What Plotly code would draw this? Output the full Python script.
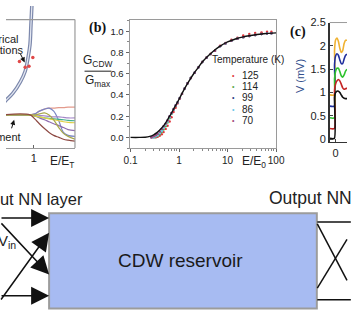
import plotly.graph_objects as go

W, H = 356, 330
def px(x): return x / W
def py(y): return 1 - y / H

FONT = "Liberation Sans, Arial, sans-serif"
SERIF = "Liberation Serif, Times New Roman, serif"

# ---------------- Panel (a) data ----------------
a_theory_x = [0.30, 0.40, 0.545, 0.71, 0.814, 0.876, 0.917, 0.938, 0.958, 0.97]
a_theory_y = [0.30, 0.336, 0.384, 0.466, 0.541, 0.637, 0.726, 0.863, 1.0, 1.1]
a_sim_x = [0.69, 0.814, 0.896, 0.979]
a_sim_y = [0.61, 0.568, 0.575, 0.637]
a_exp_x = [0.30, 0.92, 1.02, 1.12, 1.23, 1.33, 1.43, 1.54, 1.64, 1.74, 1.89]
a_exp_lines = {
    "#e39a8c": [0.233, 0.233, 0.240, 0.260, 0.274, 0.281, 0.281, 0.284, 0.284, 0.288, 0.288],
    "#7a86c4": [0.233, 0.233, 0.240, 0.260, 0.274, 0.281, 0.260, 0.192, 0.110, 0.089, 0.082],
    "#a487c9": [0.233, 0.233, 0.233, 0.230, 0.226, 0.223, 0.219, 0.219, 0.216, 0.212, 0.212],
    "#8f6db0": [0.233, 0.233, 0.226, 0.212, 0.199, 0.185, 0.171, 0.158, 0.144, 0.130, 0.123],
    "#3fae8c": [0.233, 0.233, 0.226, 0.219, 0.212, 0.209, 0.205, 0.202, 0.199, 0.195, 0.192],
    "#e0cf48": [0.233, 0.233, 0.226, 0.219, 0.212, 0.205, 0.199, 0.192, 0.185, 0.181, 0.178],
    "#a8a84a": [0.233, 0.233, 0.233, 0.240, 0.247, 0.233, 0.199, 0.144, 0.103, 0.082, 0.062],
    "#8e4a44": [0.233, 0.233, 0.205, 0.171, 0.137, 0.110, 0.089, 0.075, 0.062, 0.055, 0.048],
}

# ---------------- Panel (b) data ----------------
b_fit_E = [0.1, 0.15, 0.2, 0.25, 0.3, 0.35, 0.4, 0.5, 0.6, 0.7, 0.8, 1.0, 1.3, 1.6, 2, 2.5,
           3, 4, 5, 7, 10, 15, 20, 30, 50, 70, 100]
b_fit_G = [0.0, 0.0, 0.002, 0.01, 0.025, 0.045, 0.07, 0.12, 0.18, 0.23, 0.28, 0.36, 0.46,
           0.53, 0.6, 0.66, 0.71, 0.77, 0.81, 0.86, 0.9, 0.93, 0.945, 0.96, 0.975, 0.98, 0.985]
b_temps = ["125", "114", "99", "86", "70"]
b_colors = ["#e0353a", "#5aa84e", "#2b3a86", "#6cc6e8", "#a2467a"]
b_E = [0.27, 0.30, 0.33, 0.36, 0.40, 0.44, 0.48, 0.53, 0.58, 0.64, 0.70, 0.77, 0.85, 0.93,
       1.03, 1.15, 1.3, 1.5, 1.75, 2.1, 2.5, 3.0, 3.7, 4.5, 5.5, 7, 9, 12, 16, 21, 28, 37,
       50, 65, 80]
b_G = {
    "125": [None, None, 0.0, 0.005, 0.015, 0.03, 0.05, 0.08, 0.11, 0.15, 0.19, 0.24, 0.28,
            0.32, 0.365, 0.41, 0.46, 0.51, 0.56, 0.61, 0.66, 0.71, 0.755, 0.79, 0.82, 0.865,
            0.89, 0.92, 0.94, 0.96, 0.975, 0.985, 0.99, 0.995, 0.995],
    "114": [None, 0.0, 0.005, 0.015, 0.03, 0.05, 0.075, 0.105, 0.14, 0.18, 0.22, 0.26, 0.295,
            0.33, 0.37, 0.41, 0.46, 0.51, 0.56, 0.61, 0.66, 0.71, 0.75, 0.785, 0.815, 0.86,
            0.885, 0.91, 0.93, 0.945, 0.955, 0.965, 0.975, 0.98, 0.982],
    "99": [0.0, 0.005, 0.015, 0.03, 0.05, 0.075, 0.10, 0.13, 0.16, 0.2, 0.23, 0.265, 0.3,
           0.33, 0.37, 0.41, 0.46, 0.51, 0.56, 0.61, 0.66, 0.71, 0.75, 0.785, 0.815, 0.86,
           0.885, 0.91, 0.93, 0.945, 0.955, 0.965, 0.975, 0.98, 0.982],
    "86": [None, 0.0, 0.01, 0.02, 0.04, 0.06, 0.09, 0.12, 0.15, 0.19, 0.225, 0.26, 0.3,
           0.33, 0.37, 0.41, 0.46, 0.51, 0.56, 0.61, 0.66, 0.71, 0.75, 0.785, 0.815, 0.86,
           0.885, 0.91, 0.93, 0.945, 0.955, 0.965, 0.975, 0.98, 0.982],
    "70": [0.0, 0.01, 0.02, 0.035, 0.055, 0.08, 0.105, 0.13, 0.16, 0.2, 0.23, 0.265, 0.3,
           0.33, 0.37, 0.41, 0.46, 0.51, 0.56, 0.61, 0.66, 0.71, 0.75, 0.785, 0.815, 0.86,
           0.885, 0.91, 0.93, 0.945, 0.955, 0.965, 0.975, 0.98, 0.982],
}

# ---------------- Panel (c) data ----------------
c_t = [-0.6, -0.12, -0.1, 0.0, 0.15, 0.3, 0.45, 0.6, 0.75, 0.9, 1.05, 1.2]
c_V = {
    "#f0b232": [0.95, 0.95, 1.9, 2.12, 2.17, 2.1, 1.95, 1.86, 1.9, 2.05, 2.12, 2.12],
    "#1f2e9e": [0.71, 0.71, 1.6, 1.78, 1.83, 1.8, 1.7, 1.62, 1.62, 1.72, 1.8, 1.82],
    "#2ec42e": [0.46, 0.46, 1.3, 1.45, 1.52, 1.52, 1.45, 1.36, 1.33, 1.38, 1.46, 1.5],
    "#c42424": [0.23, 0.23, 1.05, 1.18, 1.25, 1.28, 1.25, 1.18, 1.1, 1.07, 1.08, 1.1],
    "#111111": [0.02, 0.02, 0.9, 1.0, 1.03, 1.03, 1.0, 0.95, 0.9, 0.88, 0.87, 0.87],
}
c_yticks = [0, 0.5, 1, 1.5, 2, 2.5]
c_yticktext = ["0", "0.5", "1", "1.5", "2", "2.5"]

fig = go.Figure()

# (a)
for col, ys in a_exp_lines.items():
    fig.add_trace(go.Scatter(x=a_exp_x, y=ys, mode="lines", line=dict(color=col, width=1.2, shape="spline"),
                             xaxis="x", yaxis="y"))
fig.add_trace(go.Scatter(x=a_theory_x, y=a_theory_y, mode="lines",
                         line=dict(color="#7c88ac", width=3.6, shape="spline"), xaxis="x", yaxis="y"))
fig.add_trace(go.Scatter(x=a_theory_x, y=a_theory_y, mode="lines",
                         line=dict(color="#e4e8f2", width=1.2, shape="spline"), xaxis="x", yaxis="y"))
fig.add_trace(go.Scatter(x=a_sim_x, y=a_sim_y, mode="markers",
                         marker=dict(color="#e04848", size=3.5), xaxis="x", yaxis="y"))

# (b)
for t, col in zip(b_temps, b_colors):
    fig.add_trace(go.Scatter(x=b_E, y=b_G[t], mode="markers", marker=dict(color=col, size=2.4),
                             xaxis="x2", yaxis="y2"))
fig.add_trace(go.Scatter(x=b_fit_E, y=b_fit_G, mode="lines", line=dict(color="#111111", width=1.4, shape="spline"),
                         xaxis="x2", yaxis="y2"))

# (c)
for col, vs in c_V.items():
    fig.add_trace(go.Scatter(x=c_t, y=vs, mode="lines", line=dict(color=col, width=1.6, shape="spline", smoothing=0.6),
                             xaxis="x3", yaxis="y3"))

ann = []
def text(x, y, s, size=11, color="#222", xanchor="center", family=FONT, **kw):
    ann.append(dict(x=px(x), y=py(y), xref="paper", yref="paper", text=s, showarrow=False,
                    xanchor=xanchor, yanchor="middle", font=dict(size=size, color=color, family=family), **kw))

def arrow(hx, hy, ax, ay, size=2.4, width=1.5, head=2):
    ann.append(dict(x=px(hx), y=py(hy), xref="paper", yref="paper", text="", showarrow=True,
                    ax=ax, ay=ay, arrowhead=head, arrowsize=size, arrowwidth=width, arrowcolor="#111",
                    standoff=0, startstandoff=0))

# (a) texts
text(16, 34, "Numerical", 11, xanchor="right")
text(21, 45, "simulations", 11, xanchor="right")
text(18, 135, "Experiment", 11, xanchor="right")
text(58, 160, "E/E<sub>T</sub>", 12)
arrow(19.5, 58, -5, -10, size=1, width=1)
arrow(8.5, 117, -3, 10, size=1, width=1)

# (b) texts
text(96, 23, "<b>(b)</b>", 14, color="#111", family=SERIF)
text(96, 57, "G<sub>CDW</sub>", 12)
text(96, 77, "G<sub>max</sub>", 12)
text(259, 160, "E/E<sub>0</sub>", 12)
text(213, 55, "Temperature (K)", 10, xanchor="left")
for i, (t, col) in enumerate(zip(b_temps, b_colors)):
    yy = 71 + i * 11.7
    text(237, yy, "•", 7, color=col)
    text(244, yy, t, 10, xanchor="left")

# (c) texts
text(305, 27, "<b>(c)</b>", 14, color="#111", family=SERIF)
text(307, 72, "V (mV)", 11, color="#34508c", textangle=-90)

# bottom diagram texts
text(82, 198, "Input NN layer", 16.5, xanchor="right")
text(272, 197, "Output NN layer", 17.5, xanchor="left")
text(182, 262, "CDW reservoir", 19, color="#1a1a1a")
text(13, 242, "V<sub>in</sub>", 15, xanchor="right")

# left arrows
arrow(45, 218, -60, 0)
arrow(45, 298, -60, 0)
arrow(45, 276, -55, -52.6)
arrow(45, 233, -55, 68.4)

shapes = []
def line(x0, y0, x1, y1, color="#111", width=1.5):
    shapes.append(dict(type="line", xref="paper", yref="paper", x0=px(x0), y0=py(y0), x1=px(x1), y1=py(y1),
                       line=dict(color=color, width=width)))

# (a) frame top/right
line(0, 14, 72, 14, "#9a9a9a", 1.2)
line(72, 14, 72, 146, "#9a9a9a", 1.2)
# fraction bar
line(82, 67, 110, 67, "#222", 1)
# (c) top frame
line(338, 17, 356, 17, "#9a9a9a", 1)
# reservoir box
shapes.append(dict(type="rect", xref="paper", yref="paper", x0=px(45), y0=py(311), x1=px(324.5), y1=py(213),
                   fillcolor="#a7bbf2", line=dict(color="#9c9c9c", width=2), layer="below"))
# right lines
line(325, 222, 360, 222)
line(325, 302, 360, 302)
line(325, 224, 356, 282)
line(325, 290, 356, 240)

fig.update_layout(
    width=W, height=H, autosize=False, margin=dict(l=0, r=0, t=0, b=0),
    paper_bgcolor="white", plot_bgcolor="rgba(0,0,0,0)", showlegend=False,
    font=dict(family=FONT, color="#222"),
    annotations=ann, shapes=shapes,
    xaxis=dict(domain=[0, px(72)], range=[0.4, 1.889], tickvals=[1], ticktext=["1"], ticks="inside",
               ticklen=3, tickcolor="#666", showline=True, linecolor="#9a9a9a", linewidth=1.2,
               showgrid=False, zeroline=False, tickfont=dict(size=11), anchor="y"),
    yaxis=dict(domain=[py(146), 1], range=[0, 1], visible=False, anchor="x"),
    xaxis2=dict(domain=[px(129), px(282)], type="log", range=[-1.02, 2], tickvals=[0.1, 1, 10, 100],
                ticktext=["0.1", "1", "10", "100"], ticks="outside", ticklen=3, tickcolor="#666",
                minor=dict(ticks="outside", ticklen=2, dtick="D1", tickcolor="#888"),
                showline=True, mirror=True, linecolor="#9a9a9a", linewidth=1, showgrid=False,
                zeroline=False, tickfont=dict(size=10), anchor="y2"),
    yaxis2=dict(domain=[py(146), py(14)], range=[-0.1, 1.11], tickvals=[0, 0.2, 0.4, 0.6, 0.8, 1.0],
                ticktext=["0.0", "0.2", "0.4", "0.6", "0.8", "1.0"], ticks="outside", ticklen=3,
                tickcolor="#666", minor=dict(ticks="outside", ticklen=2, dtick=0.1, tickcolor="#888"),
                showline=True, mirror=True, linecolor="#9a9a9a", linewidth=1, showgrid=False,
                zeroline=False, tickfont=dict(size=9.5), anchor="x2"),
    xaxis3=dict(domain=[px(338), 1], range=[-0.6, 1.2], tickvals=[0], ticktext=["0"], ticks="inside",
                ticklen=3, showline=True, linecolor="#333", linewidth=1.3, showgrid=False,
                zeroline=False, tickfont=dict(size=11), anchor="y3"),
    yaxis3=dict(domain=[py(140), py(17)], range=[-0.0625, 2.5], tickvals=c_yticks, ticktext=c_yticktext,
                ticks="inside", ticklen=3, showline=True, linecolor="#333", linewidth=1.5,
                showgrid=False, zeroline=False, tickfont=dict(size=11), anchor="x3"),
)

fig.write_html("out.html")
